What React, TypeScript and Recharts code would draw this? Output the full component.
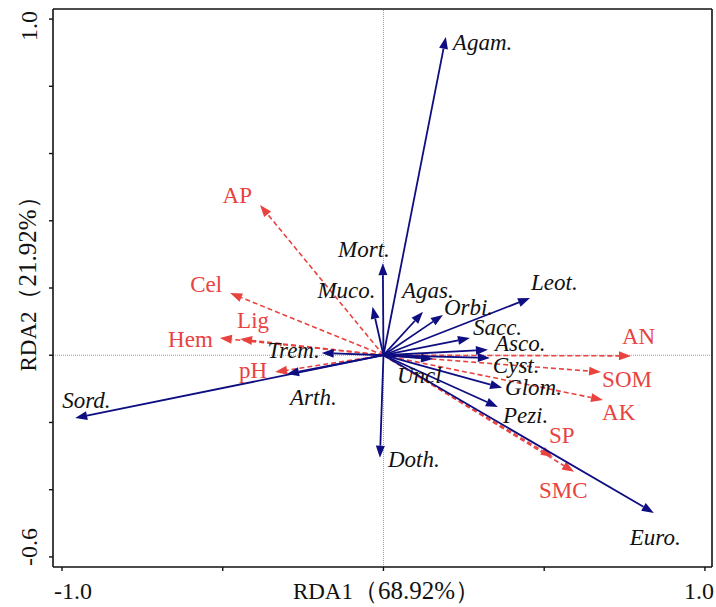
import React from 'react';
import { ScatterChart, Scatter, XAxis, YAxis, ReferenceLine } from 'recharts';

// species scores (blue arrows)
const speciesNames = ['Agam.', 'Mort.', 'Muco.', 'Agas.', 'Orbi.', 'Leot.', 'Sacc.', 'Asco.', 'Cyst.', 'Uncl', 'Glom.', 'Pezi.', 'Euro.', 'Doth.', 'Trem.', 'Arth.', 'Sord.'];
const speciesRDA1 = [0.194, -0.002, -0.034, 0.123, 0.185, 0.456, 0.269, 0.325, 0.331, 0.154, 0.369, 0.356, 0.841, -0.011, -0.192, -0.3, -0.959];
const speciesRDA2 = [0.947, 0.274, 0.144, 0.129, 0.12, 0.17, 0.051, 0.016, -0.008, -0.011, -0.097, -0.154, -0.469, -0.305, 0.007, -0.056, -0.187];

// environmental factors (red dashed arrows)
const envNames = ['AP', 'Cel', 'Lig', 'Hem', 'pH', 'AN', 'SOM', 'AK', 'SP', 'SMC'];
const envRDA1 = [-0.384, -0.477, -0.446, -0.509, -0.337, 0.77, 0.677, 0.683, 0.527, 0.593];
const envRDA2 = [0.447, 0.185, 0.048, 0.051, -0.05, -0.002, -0.05, -0.133, -0.303, -0.347];

const xTicks = [-1, -0.5, 0, 0.5, 1];
const xTickLabels = ['-1.0', '', '', '', '1.0'];
const yTicks = [-0.6, -0.4, -0.2, 0, 0.2, 0.4, 0.6, 0.8, 1.0];
const yTickLabels = ['-0.6', '', '', '', '', '', '', '', '1.0'];

const X_DOMAIN: [number, number] = [-1.028, 1.022];
const Y_DOMAIN: [number, number] = [-0.63, 1.03];

const BLUE = '#0e0e82';
const RED = '#e8433f';
const FONT = '"Liberation Serif", "Times New Roman", serif';

// label placement relative to arrow tip: [dx, dy, anchor]
const labelPos: Record<string, [number, number, string]> = {
  'Agam.': [7, 13, 'start'],
  'Mort.': [7, -6, 'end'],
  'Muco.': [3, -9, 'end'],
  'Agas.': [-21, -14, 'start'],
  'Orbi.': [1, 0, 'start'],
  'Leot.': [1, -8, 'start'],
  'Sacc.': [3, -3, 'start'],
  'Asco.': [7, 1, 'start'],
  'Cyst.': [3, 15, 'start'],
  Uncl: [-36, 24, 'start'],
  'Glom.': [3, 7, 'start'],
  'Pezi.': [5, 16, 'start'],
  'Euro.': [-24, 32, 'start'],
  'Doth.': [8, 9, 'start'],
  'Trem.': [-2, 5, 'end'],
  'Arth.': [3, 31, 'start'],
  'Sord.': [-13, -10, 'start'],
  AP: [-8, -2, 'end'],
  Cel: [-8, -1, 'end'],
  Lig: [-3, -11, 'start'],
  Hem: [-7, 9, 'end'],
  pH: [-8, 6, 'end'],
  AN: [-9, -12, 'start'],
  SOM: [1, 15, 'start'],
  AK: [-1, 20, 'start'],
  SP: [-4, -14, 'start'],
  SMC: [-35, 26, 'start'],
};

const speciesData = speciesNames.map((name, i) => ({ name, x: speciesRDA1[i], y: speciesRDA2[i] }));
const envData = envNames.map((name, i) => ({ name, x: envRDA1[i], y: envRDA2[i] }));

const arrowShape = (color: string, dashed: boolean) => (props: any) => {
  const { x1, y1, x2, y2 } = props;
  const ang = Math.atan2(y2 - y1, x2 - x1);
  const len = 12;
  const half = 4.5;
  const bx = x2 - len * Math.cos(ang);
  const by = y2 - len * Math.sin(ang);
  const nx = -Math.sin(ang) * half;
  const ny = Math.cos(ang) * half;
  return (
    <g>
      <line
        x1={x1}
        y1={y1}
        x2={bx}
        y2={by}
        stroke={color}
        strokeWidth={dashed ? 1.6 : 1.8}
        strokeDasharray={dashed ? '5 3' : undefined}
      />
      <polygon points={`${x2},${y2} ${bx + nx},${by + ny} ${bx - nx},${by - ny}`} fill={color} />
    </g>
  );
};

const labelShape = (color: string, italic: boolean) => (props: any) => {
  const { cx, cy, payload } = props;
  const p = labelPos[payload.name] || [4, 0, 'start'];
  return (
    <text
      x={cx + p[0]}
      y={cy + p[1]}
      textAnchor={p[2] as any}
      fill={color}
      fontSize={23}
      fontStyle={italic ? 'italic' : 'normal'}
      fontFamily={FONT}
    >
      {payload.name}
    </text>
  );
};

const XTick = (props: any) => {
  const { x, y, payload } = props;
  const i = xTicks.indexOf(payload.value);
  const label = xTickLabels[i];
  if (!label) return <g />;
  const nudge = i === 0 ? 11 : -6;
  return (
    <text x={x + nudge} y={y + 26} textAnchor="middle" fontSize={24} fontFamily={FONT} fill="#111">
      {label}
    </text>
  );
};

const YTick = (props: any) => {
  const { y, payload } = props;
  const i = yTicks.indexOf(payload.value);
  const label = yTickLabels[i];
  if (!label) return <g />;
  const cy = y + (i === 0 ? -10 : 7);
  const cx = 37;
  return (
    <text
      x={cx}
      y={cy}
      transform={`rotate(-90 ${cx} ${cy})`}
      textAnchor="middle"
      fontSize={24}
      fontFamily={FONT}
      fill="#111"
    >
      {label}
    </text>
  );
};

const XTitle = (props: any) => {
  const { viewBox } = props;
  const cx = viewBox.x + viewBox.width / 2 + 4;
  return (
    <text x={cx} y={599} textAnchor="middle" fontFamily={FONT} fill="#111">
      <tspan fontSize={23}>RDA1</tspan>
      <tspan fontSize={25}>（68.92%）</tspan>
    </text>
  );
};

const YTitle = (props: any) => {
  const { viewBox } = props;
  const cx = 36;
  const cy = viewBox.y + viewBox.height / 2 - 10;
  return (
    <text x={cx} y={cy} transform={`rotate(-90 ${cx} ${cy})`} textAnchor="middle" fontFamily={FONT} fill="#111">
      <tspan fontSize={23}>RDA2</tspan>
      <tspan fontSize={25}>（21.92%）</tspan>
    </text>
  );
};

export default function App() {
  return (
    <div style={{ position: 'absolute', left: 0, top: 0, width: 716, height: 607, background: '#fff' }}>
      <ScatterChart width={716} height={607} margin={{ top: 9, right: 4, bottom: 0, left: 0 }}>
        <XAxis
          type="number"
          dataKey="x"
          domain={X_DOMAIN}
          allowDataOverflow
          ticks={xTicks}
          tick={<XTick />}
          tickSize={4}
          height={40}
          axisLine={{ stroke: '#111', strokeWidth: 1.6 }}
          tickLine={{ stroke: '#111', strokeWidth: 1.4 }}
          label={<XTitle />}
        />
        <YAxis
          type="number"
          dataKey="y"
          domain={Y_DOMAIN}
          allowDataOverflow
          ticks={yTicks}
          tick={<YTick />}
          tickSize={4}
          width={53}
          axisLine={{ stroke: '#111', strokeWidth: 1.6 }}
          tickLine={{ stroke: '#111', strokeWidth: 1.4 }}
          label={<YTitle />}
        />
        <ReferenceLine y={0} stroke="#999" strokeDasharray="1 1" ifOverflow="visible" />
        <ReferenceLine x={0} stroke="#999" strokeDasharray="1 1" ifOverflow="visible" />
        <ReferenceLine y={Y_DOMAIN[1]} stroke="#111" strokeWidth={1.6} ifOverflow="visible" />
        <ReferenceLine x={X_DOMAIN[1]} stroke="#111" strokeWidth={1.6} ifOverflow="visible" />
        {envData.map((d) => (
          <ReferenceLine
            key={'e' + d.name}
            segment={[{ x: 0, y: 0 }, { x: d.x, y: d.y }]}
            ifOverflow="visible"
            shape={arrowShape(RED, true)}
          />
        ))}
        {speciesData.map((d) => (
          <ReferenceLine
            key={'s' + d.name}
            segment={[{ x: 0, y: 0 }, { x: d.x, y: d.y }]}
            ifOverflow="visible"
            shape={arrowShape(BLUE, false)}
          />
        ))}
        <Scatter data={envData} shape={labelShape(RED, false)} isAnimationActive={false} />
        <Scatter data={speciesData} shape={labelShape('#111', true)} isAnimationActive={false} />
      </ScatterChart>
    </div>
  );
}
